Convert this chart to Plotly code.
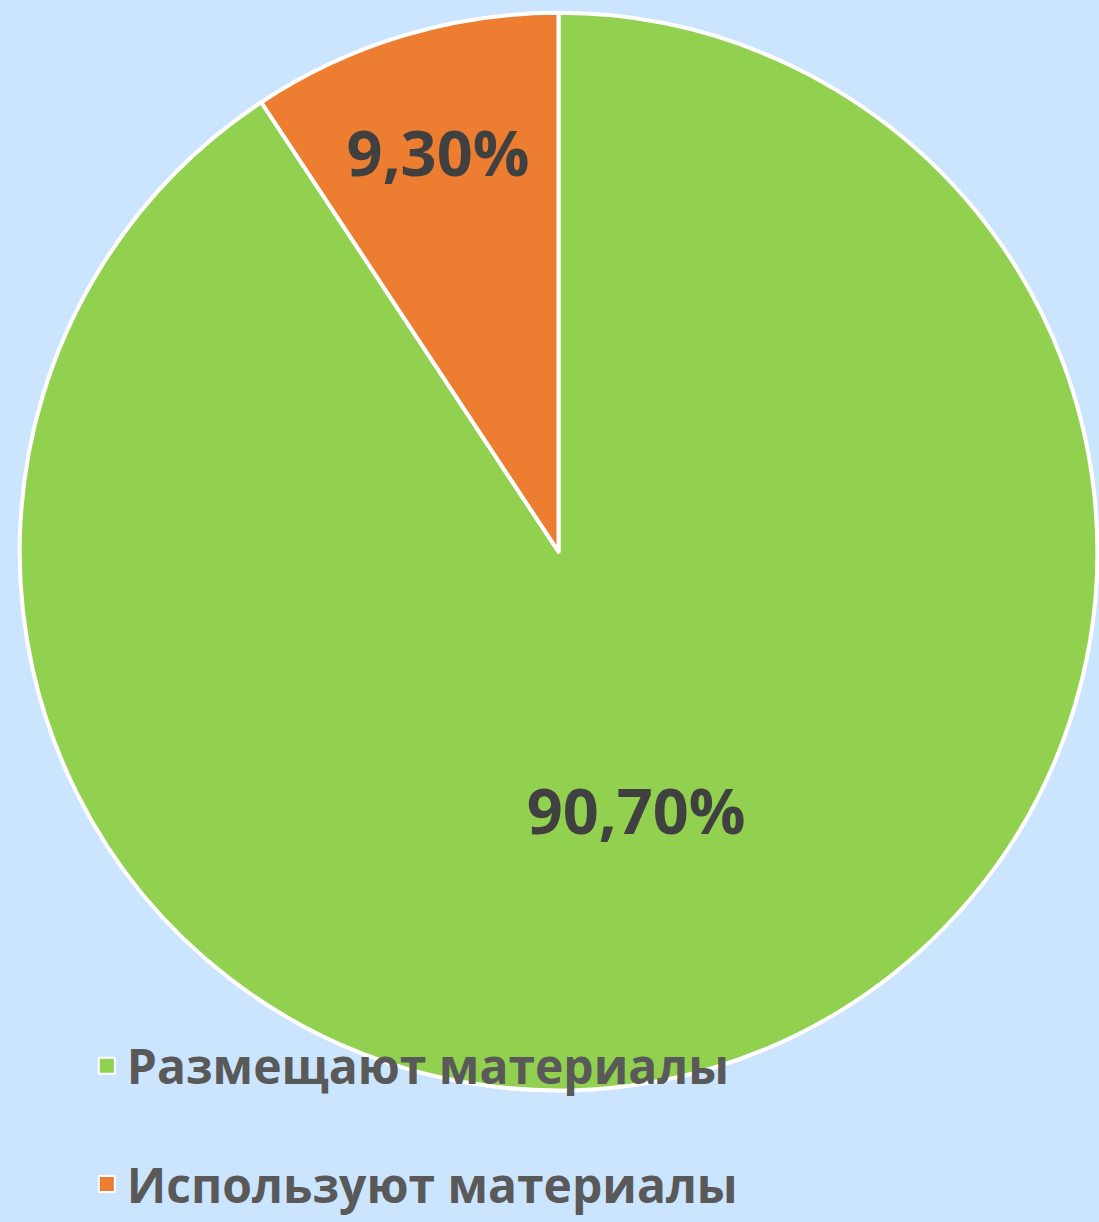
import plotly.graph_objects as go

categories = ["Размещают материалы", "Используют материалы"]
values = [90.7, 9.3]
colors = ["#92D050", "#ED7D31"]

fig = go.Figure()

fig.add_trace(go.Pie(
    labels=categories,
    values=values,
    sort=False,
    direction="clockwise",
    rotation=0,
    marker=dict(colors=colors, line=dict(color="#FFFFFF", width=4)),
    texttemplate="%{value:.2f}%",
    textposition="inside",
    insidetextorientation="horizontal",
    textfont=dict(family="Open Sans", size=63, color="#404040", weight="bold"),
    domain=dict(x=[18/1099, 1.0], y=[0.101, 0.9894]),
    hoverinfo="label+percent",
    showlegend=False,
))

# legend entries (one per category)
for i, (cat, col) in enumerate(zip(categories, colors)):
    fig.add_trace(go.Scatter(
        x=[None], y=[None], mode="markers", name=cat,
        legendgroup=f"g{i}",
        marker=dict(symbol="square", size=16, color=col,
                    line=dict(color="#FFFFFF", width=2)),
        hoverinfo="skip",
    ))

fig.update_layout(
    width=1099, height=1222,
    margin=dict(l=0, r=0, t=0, b=0),
    paper_bgcolor="#CCE5FF",
    plot_bgcolor="rgba(0,0,0,0)",
    separators=", ",
    showlegend=True,
    xaxis=dict(visible=False),
    yaxis=dict(visible=False),
    legend=dict(
        x=0.079, y=-0.0075, xanchor="left", yanchor="bottom",
        bgcolor="rgba(0,0,0,0)",
        font=dict(family="Open Sans", size=48, color="#595959", weight="bold"),
        traceorder="grouped",
        tracegroupgap=53,
    ),
)

fig.write_html(
    "out.html",
    config={"displayModeBar": False},
    post_script="document.body.style.margin='0';document.body.style.overflow='hidden';",
)
